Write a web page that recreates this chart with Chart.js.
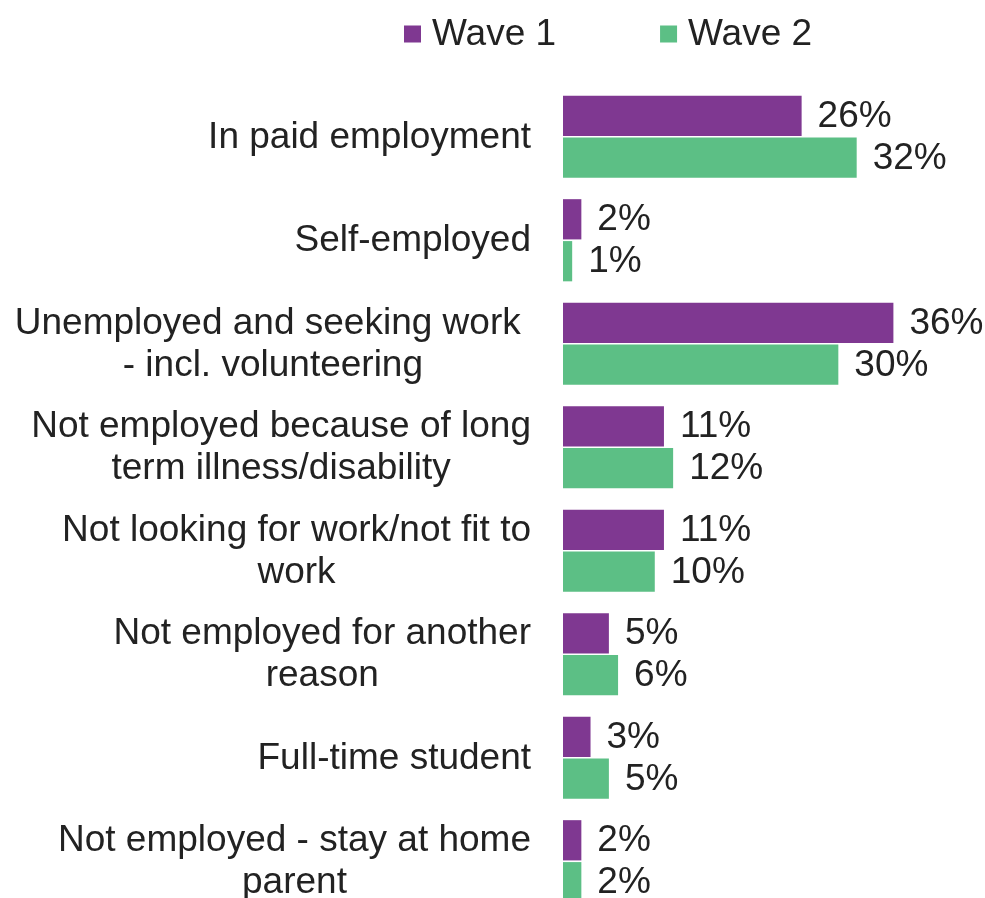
<!DOCTYPE html>
<html>
<head>
<meta charset="utf-8">
<script src="https://cdn.jsdelivr.net/npm/chart.js@4"></script>
<style>
  body { margin: 0; background: #fff; overflow: hidden; }
  #wrap { width: 985px; height: 913px; position: relative; }
</style>
</head>
<body>
<div id="wrap"><canvas id="statusChart"></canvas></div>
<script>
const categories = [
    'In paid employment',
    'Self-employed',
    ['Unemployed and seeking work ', '- incl. volunteering'],
    ['Not employed because of long', 'term illness/disability'],
    ['Not looking for work/not fit to', 'work'],
    ['Not employed for another', 'reason'],
    'Full-time student',
    ['Not employed - stay at home', 'parent']
];
const wave1 = [26, 2, 36, 11, 11, 5, 3, 2];
const wave2 = [32, 1, 30, 12, 10, 6, 5, 2];
const seriesNames = ['Wave 1', 'Wave 2'];

const FONT = '37px "Liberation Sans", Arial, sans-serif';
const TEXT_COLOR = '#222222';

// category names drawn to the left of the bars, lines centred inside a right-aligned block
const categoryLabels = {
    id: 'categoryLabels',
    afterDraw(chart) {
        const ctx = chart.ctx;
        const yScale = chart.scales.y;
        const right = chart.chartArea.left - 32;
        const lineHeight = 42;
        ctx.save();
        ctx.font = FONT;
        ctx.fillStyle = TEXT_COLOR;
        ctx.textAlign = 'center';
        ctx.textBaseline = 'middle';
        chart.data.labels.forEach((label, i) => {
            const lines = Array.isArray(label) ? label : [label];
            const w = Math.max(...lines.map(l => ctx.measureText(l).width));
            const cx = right - w / 2;
            const cy = yScale.getPixelForValue(i) + 1;
            const top = cy - (lines.length - 1) * lineHeight / 2;
            lines.forEach((l, j) => ctx.fillText(l, cx, top + j * lineHeight));
        });
        ctx.restore();
    }
};

// percentage text after the end of each bar
const valueLabels = {
    id: 'valueLabels',
    afterDatasetsDraw(chart) {
        const ctx = chart.ctx;
        ctx.save();
        ctx.font = FONT;
        ctx.fillStyle = TEXT_COLOR;
        ctx.textAlign = 'left';
        ctx.textBaseline = 'middle';
        chart.data.datasets.forEach((ds, di) => {
            chart.getDatasetMeta(di).data.forEach((bar, i) => {
                ctx.fillText(ds.data[i] + '%', bar.x + 16, bar.y + 1);
            });
        });
        ctx.restore();
    }
};

// simple legend row above the plot
const topLegend = {
    id: 'topLegend',
    afterDraw(chart) {
        const ctx = chart.ctx;
        let x = 404;
        const y = 34;
        ctx.save();
        ctx.font = FONT;
        ctx.textBaseline = 'middle';
        ctx.textAlign = 'left';
        chart.data.datasets.forEach(ds => {
            ctx.fillStyle = ds.backgroundColor;
            ctx.fillRect(x, y - 8.5, 17, 17);
            ctx.fillStyle = TEXT_COLOR;
            ctx.fillText(ds.label, x + 28, y + 1);
            x += 28 + ctx.measureText(ds.label).width + 104;
        });
        ctx.restore();
    }
};

new Chart(document.getElementById('statusChart'), {
    type: 'bar',
    data: {
        labels: categories,
        datasets: [
            { label: seriesNames[0], data: wave1, backgroundColor: '#7f3891' },
            { label: seriesNames[1], data: wave2, backgroundColor: '#5cbf85' }
        ]
    },
    options: {
        indexAxis: 'y',
        responsive: true,
        maintainAspectRatio: false,
        animation: false,
        categoryPercentage: 0.81,
        barPercentage: 0.96,
        layout: { padding: { left: 563, top: 85, right: 9, bottom: 0 } },
        scales: {
            x: { display: false, min: 0, max: 45 },
            y: { display: false }
        },
        plugins: {
            legend: { display: false },
            tooltip: { enabled: false }
        }
    },
    plugins: [categoryLabels, valueLabels, topLegend]
});
</script>
</body>
</html>
